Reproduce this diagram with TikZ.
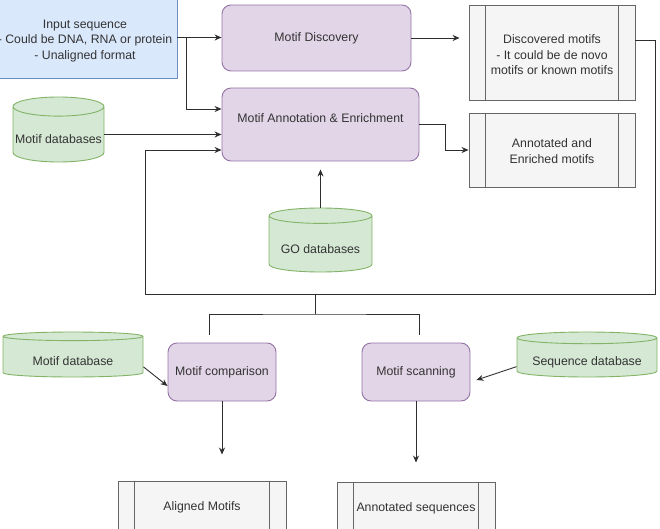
\documentclass[tikz,border=0pt]{standalone}
\usepackage{fontspec}
\setmainfont{Liberation Sans}
\usetikzlibrary{shapes.geometric,arrows.meta}
\definecolor{drawBlueFill}{HTML}{dae8fc}
\definecolor{drawBlueLine}{HTML}{6c8ebf}
\definecolor{drawPurpleFill}{HTML}{e1d5e7}
\definecolor{drawPurpleLine}{HTML}{9673a6}
\definecolor{drawGreenFill}{HTML}{d5e8d4}
\definecolor{drawGreenLine}{HTML}{82b366}
\definecolor{drawGrayFill}{HTML}{f5f5f5}
\definecolor{drawGrayLine}{HTML}{666666}
\definecolor{drawText}{HTML}{333333}
\definecolor{drawEdge}{HTML}{2e2e2e}

\begin{document}
\begin{tikzpicture}[x=1pt, y=-1pt,
    every node/.style={font=\fontsize{12.3}{15.5}\selectfont, text=drawText, align=center, line width=0.9pt},
    inputbox/.style={draw=drawBlueLine, fill=drawBlueFill, minimum width=184pt, minimum height=81pt},
    toolbox/.style={draw=drawPurpleLine, fill=drawPurpleFill, rounded corners=9pt},
    dbase/.style={cylinder, shape border rotate=90, anchor=shape center, draw=drawGreenLine, fill=drawGreenFill, inner sep=0pt, text depth=0pt},
    resultbox/.style={draw=drawGrayLine, fill=drawGrayFill,
        path picture={\draw[drawGrayLine, line width=0.9pt]
            ([xshift=16.5pt]path picture bounding box.north west) -- ([xshift=16.5pt]path picture bounding box.south west)
            ([xshift=-16.5pt]path picture bounding box.north east) -- ([xshift=-16.5pt]path picture bounding box.south east);}},
    link/.style={draw=drawEdge, line width=0.9pt, -{Stealth[length=7pt,width=6pt]}},
    wire/.style={draw=drawEdge, line width=0.9pt}]
    \useasboundingbox (0,0) rectangle (660,529);
    \clip (0,0) rectangle (660,529);

    \node[inputbox, text height=46pt] (inp) at (85,37.5) {Input sequence\\- Could be DNA, RNA or protein\\- Unaligned format};
    \node[toolbox, minimum width=189pt, minimum height=66pt] (disc) at (316.5,38) {Motif Discovery};
    \node[toolbox, minimum width=197pt, minimum height=73pt, text height=9pt, text depth=13.4pt] (ann) at (320.5,124.5) {Motif Annotation \& Enrichment};
    \node[resultbox, minimum width=166pt, minimum height=95pt, text height=45pt] (dm) at (552,52.5) {Discovered motifs\\- It could be de novo\\motifs or known motifs};
    \node[resultbox, minimum width=166pt, minimum height=74pt, text height=26.5pt] (aem) at (552,150) {Annotated and\\Enriched motifs};
    \node[dbase, minimum width=91pt, minimum height=65pt, aspect=0.22, text height=18.8pt] (mdbs) at (58.5,129.5) {Motif databases};
    \node[dbase, minimum width=103pt, minimum height=64pt, aspect=0.194, text height=18.8pt] (go) at (320.5,240) {GO databases};
    \node[dbase, minimum width=140pt, minimum height=45pt, aspect=0.107, text height=16.3pt] (mdb) at (73,354.5) {Motif database};
    \node[dbase, minimum width=140pt, minimum height=45pt, aspect=0.107, text height=16.3pt] (sdb) at (587,354.5) {Sequence database};
    \node[toolbox, minimum width=108pt, minimum height=58pt] (comp) at (222,372) {Motif comparison};
    \node[toolbox, minimum width=108pt, minimum height=58pt] (scan) at (416,372) {Motif scanning};
    \node[resultbox, minimum width=168pt, minimum height=74pt, text height=9pt, text depth=25pt] (al) at (202,518) {Aligned Motifs};
    \node[resultbox, minimum width=158pt, minimum height=74pt, text height=9pt, text depth=25pt] (as) at (416,519) {Annotated sequences};

    \coordinate (loopR) at (655,294);
    \coordinate (loopL) at (145,294);
    \coordinate (split) at (315,294);
    \coordinate (fork) at (315,314);
    \coordinate (forkL) at (209,335);
    \coordinate (forkR) at (419,335);

    \draw[link] (inp.east) -- (inp.east -| disc.west);
    \draw[link] ([xshift=9pt]inp.east) |- ([yshift=15.5pt]ann.west);
    \draw[link] (mdbs.east) -- (mdbs.east -| ann.west);
    \draw[link, shorten >=9pt] (disc.east) -- (disc.east -| dm.west);
    \draw[link] (ann.east) -- ++(26,0) |- (aem.west);
    \draw[link, shorten >=8pt] (go.north) -- (go.north |- ann.south);
    \draw[link] ([yshift=12.5pt]dm.east) -| (loopR) -- (loopL) |- ([yshift=-25.5pt]ann.west);
    \draw[wire] (split) -- (fork) (forkL) |- (fork) -| (forkR);
    \draw[link] ([yshift=-10pt]mdb.east) -- ([yshift=-14pt]comp.west);
    \draw[link] ([yshift=-9pt]sdb.west) -- ([xshift=6pt,yshift=-8pt]scan.east);
    \draw[link, shorten >=26pt] (comp) -- (comp |- al.north);
    \draw[link, shorten >=19pt] (scan) -- (scan |- as.north);
\end{tikzpicture}
\end{document}
